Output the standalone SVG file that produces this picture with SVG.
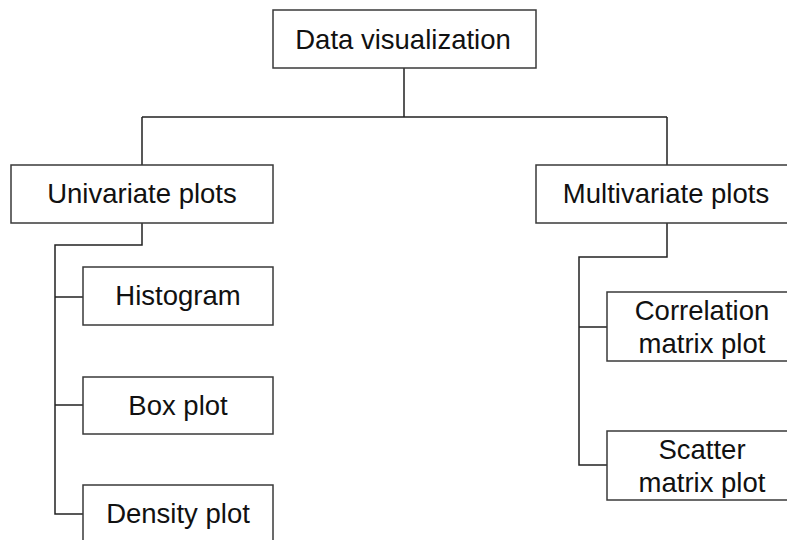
<svg xmlns="http://www.w3.org/2000/svg" width="787" height="540" viewBox="0 0 787 540">
  <style>
    .box { fill: #ffffff; stroke: #3a3a3a; stroke-width: 1.5; }
    .lbl { font-family: "Liberation Sans", Arial, sans-serif; font-size: 27.5px; fill: #111111; text-anchor: middle; }
    .wire { fill: none; stroke: #222222; stroke-width: 1.5; }
  </style>
  <rect width="787" height="540" fill="#ffffff"/>

  <!-- tree connectors -->
  <g id="connectors">
    <path class="wire" d="M404,68 V117 M142,117 H667 M142,117 V165 M667,117 V165"/>
    <path class="wire" d="M142,223 V245 H55 V514 H83 M55,297 H83 M55,405 H83"/>
    <path class="wire" d="M667,223 V257 H579 V465 H607 M579,327 H607"/>
  </g>

  <g id="data-visualization">
    <rect class="box" x="273" y="10" width="263" height="58"/>
    <text class="lbl" x="403" y="49">Data visualization</text>
  </g>

  <g id="univariate-plots">
    <rect class="box" x="11" y="165" width="262" height="58"/>
    <text class="lbl" x="142" y="203">Univariate plots</text>
  </g>

  <g id="multivariate-plots">
    <rect class="box" x="536" y="165" width="260" height="58"/>
    <text class="lbl" x="666" y="203">Multivariate plots</text>
  </g>

  <g id="histogram">
    <rect class="box" x="83" y="267" width="190" height="58"/>
    <text class="lbl" x="178" y="305">Histogram</text>
  </g>

  <g id="box-plot">
    <rect class="box" x="83" y="377" width="190" height="57"/>
    <text class="lbl" x="178" y="415">Box plot</text>
  </g>

  <g id="density-plot">
    <rect class="box" x="83" y="485" width="190" height="58"/>
    <text class="lbl" x="178" y="523">Density plot</text>
  </g>

  <g id="correlation-matrix-plot">
    <rect class="box" x="607" y="292" width="190" height="69"/>
    <text class="lbl" x="702" y="320">Correlation</text>
    <text class="lbl" x="702" y="353">matrix plot</text>
  </g>

  <g id="scatter-matrix-plot">
    <rect class="box" x="607" y="431" width="190" height="69"/>
    <text class="lbl" x="702" y="459">Scatter</text>
    <text class="lbl" x="702" y="492">matrix plot</text>
  </g>
</svg>
